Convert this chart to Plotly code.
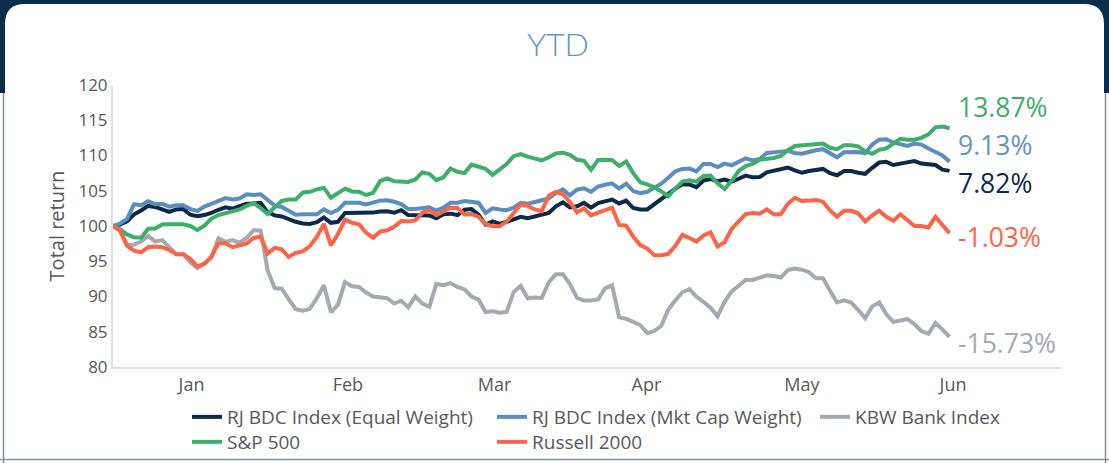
import pandas as pd
import plotly.graph_objects as go

# ---------------- data ----------------
dates = pd.bdate_range("2022-12-30", periods=120)

equal_weight = [100,
    100.2, 100.65, 101.65, 102.2, 102.85, 102.7, 102.35, 102.0, 102.35, 102.4,
    101.6, 101.4, 101.55, 101.85, 102.3, 102.65, 102.45, 102.75, 103.15, 103.2,
    103.3, 101.95, 101.5, 101.35, 100.95, 100.6, 100.35, 100.3, 100.55, 101.2,
    100.45, 100.6, 101.85, 101.85, 101.85, 101.85, 101.9, 102.05, 102.1, 101.9,
    102.25, 101.55, 101.5, 101.5, 101.5, 101.1, 101.65, 101.75, 101.55, 102.3,
    102.4, 101.6, 100.2, 100.65, 100.3, 100.6, 100.9, 101.3, 101.1, 101.35,
    101.55, 101.85, 102.8, 103.35, 102.65, 102.8, 103.3, 102.6, 103.25, 103.55,
    103.75, 103.2, 103.6, 102.55, 102.35, 102.35, 103.1, 103.8, 104.55, 105.3,
    105.9, 105.9, 105.5, 106.45, 106.65, 106.35, 106.6, 106.3, 106.7, 107.15,
    106.9, 106.95, 107.6, 107.8, 108.0, 108.3, 107.9, 107.55, 107.8, 107.9,
    108.1, 107.5, 107.2, 107.8, 107.8, 107.55, 107.4, 108.25, 109.0, 109.1,
    108.65, 108.85, 109.05, 109.2, 108.85, 108.7, 108.65, 108.0, 107.82]

mkt_cap_weight = [100,
    100.35, 101.0, 103.1, 102.95, 103.5, 103.1, 103.15, 102.75, 102.95, 102.95,
    102.4, 102.15, 102.75, 103.15, 103.6, 103.95, 103.75, 103.9, 104.5, 104.4,
    104.5, 103.65, 102.9, 102.7, 102.1, 101.6, 101.65, 101.7, 101.65, 102.35,
    101.85, 102.3, 103.3, 103.3, 103.3, 103.05, 103.3, 103.6, 103.65, 103.45,
    103.1, 102.4, 102.4, 102.5, 102.65, 102.2, 102.6, 103.3, 103.3, 103.55,
    103.45, 103.3, 101.85, 102.5, 102.35, 102.25, 102.6, 103.3, 103.15, 103.45,
    103.65, 103.9, 104.7, 105.2, 104.35, 105.15, 105.35, 104.85, 105.6, 105.85,
    106.05, 105.3, 106.0, 104.95, 104.65, 104.85, 105.35, 106.0, 106.85, 107.75,
    108.1, 108.15, 107.75, 108.8, 108.8, 108.35, 108.85, 108.6, 109.1, 109.6,
    109.3, 109.5, 110.35, 110.4, 110.55, 110.65, 110.35, 110.25, 110.55, 110.75,
    110.9, 110.4, 109.75, 110.45, 110.5, 110.5, 110.3, 111.55, 112.25, 112.3,
    111.85, 111.55, 111.35, 111.7, 111.55, 111.0, 110.55, 110.0, 109.13]

kbw_bank = [100,
    99.5, 97.3, 97.35, 97.8, 98.6, 97.8, 98.0, 97.0, 96.0, 96.0,
    94.85, 94.0, 94.7, 95.5, 98.25, 97.75, 98.0, 97.6, 98.3, 99.4,
    99.35, 93.7, 91.2, 91.1, 89.6, 88.2, 88.0, 88.25, 89.75, 91.6,
    87.75, 88.85, 92.05, 91.45, 91.35, 90.55, 90.0, 89.9, 89.75, 89.0,
    89.4, 88.45, 90.0, 89.0, 88.55, 91.8, 91.6, 91.9, 91.35, 91.0,
    90.0, 89.55, 87.8, 87.9, 87.7, 87.8, 90.65, 91.5, 89.75, 89.85,
    89.8, 92.05, 93.15, 93.15, 91.75, 89.8, 89.45, 89.45, 89.6, 91.15,
    91.6, 87.05, 86.85, 86.4, 85.95, 84.8, 85.1, 85.85, 88.15, 89.45,
    90.6, 91.05, 89.95, 89.25, 88.4, 87.2, 89.25, 90.7, 91.55, 92.35,
    92.35, 92.7, 93.0, 92.9, 92.7, 93.75, 93.95, 93.8, 93.45, 92.6,
    92.6, 90.8, 89.15, 89.45, 89.15, 88.1, 86.95, 88.6, 89.15, 87.5,
    86.4, 86.6, 86.8, 86.1, 85.1, 84.7, 86.25, 85.3, 84.27]

sp500 = [100,
    99.5, 98.8, 98.4, 98.35, 99.6, 99.65, 100.2, 100.25, 100.25, 100.25,
    100.0, 99.45, 100.05, 101.05, 101.55, 101.85, 102.1, 102.35, 102.85, 103.25,
    102.55, 101.7, 102.65, 103.55, 103.75, 103.75, 104.75, 104.85, 105.2, 105.4,
    104.0, 104.65, 105.3, 104.9, 104.85, 104.4, 104.7, 106.35, 106.75, 106.35,
    106.3, 106.25, 106.6, 107.6, 107.4, 106.5, 106.9, 108.15, 107.7, 107.5,
    108.7, 108.45, 108.1, 107.25, 108.1, 108.8, 109.9, 110.2, 109.85, 109.5,
    109.3, 109.75, 110.3, 110.4, 110.1, 109.4, 109.25, 107.95, 109.35, 109.35,
    109.35, 108.5, 109.15, 107.5, 106.2, 105.9, 105.5, 104.9, 104.2, 105.35,
    106.3, 106.5, 106.3, 107.1, 107.15, 106.05, 105.25, 106.4, 107.8, 108.5,
    108.8, 109.4, 109.5, 109.65, 109.95, 110.75, 111.35, 111.45, 111.5, 111.65,
    111.7, 111.1, 110.9, 111.45, 111.45, 111.3, 110.6, 110.25, 110.8, 111.0,
    111.75, 112.35, 112.25, 112.25, 112.5, 113.0, 114.0, 114.1, 113.87]

russell2000 = [100,
    99.3, 97.2, 96.5, 96.25, 97.0, 97.1, 97.0, 96.6, 96.0, 96.0,
    95.3, 94.3, 94.6, 95.65, 97.55, 97.55, 97.0, 97.25, 97.5, 98.3,
    98.5, 96.1, 96.9, 96.7, 95.6, 96.2, 96.4, 97.15, 98.45, 100.3,
    97.25, 98.85, 100.9, 100.45, 100.25, 99.05, 98.35, 99.2, 99.4, 99.9,
    100.7, 100.65, 100.8, 101.9, 102.25, 101.55, 102.1, 102.6, 102.55, 101.65,
    101.7, 101.3, 100.3, 99.95, 99.95, 100.65, 101.8, 103.05, 102.85, 102.35,
    102.1, 104.3, 104.85, 104.5, 103.4, 101.95, 102.5, 101.5, 101.9, 102.3,
    102.6, 100.15, 100.05, 98.5, 97.3, 96.8, 95.85, 95.85, 96.05, 97.2,
    98.75, 98.3, 97.8, 98.65, 99.1, 97.1, 97.7, 99.6, 100.6, 101.7,
    101.85, 101.75, 102.35, 101.65, 101.65, 103.15, 104.0, 103.55, 103.6, 103.7,
    103.45, 102.2, 101.3, 102.15, 102.15, 101.8, 100.65, 101.5, 102.15, 101.3,
    100.75, 101.65, 100.85, 100.0, 100.0, 99.8, 101.3, 100.2, 98.97]

series_names = ["RJ BDC Index (Equal Weight)", "RJ BDC Index (Mkt Cap Weight)",
                "KBW Bank Index", "S&P 500", "Russell 2000"]
series_values = [equal_weight, mkt_cap_weight, kbw_bank, sp500, russell2000]
series_colors = ["#0b2a4a", "#5b8dbf", "#a4aab1", "#3daf69", "#fa6548"]
end_labels = ["7.82%", "9.13%", "-15.73%", "13.87%", "-1.03%"]
label_colors = ["#0b2a4a", "#6494c4", "#a4aab1", "#3daf69", "#fa6548"]

month_labels = ["Jan", "Feb", "Mar", "Apr", "May", "Jun"]
month_tick_pos = ["2023-01-16 04:00", "2023-02-15 10:00", "2023-03-16 07:00",
                  "2023-04-14 21:00", "2023-05-17 00:00", "2023-06-15 12:00"]
y_ticks = [80, 85, 90, 95, 100, 105, 110, 115, 120]

# ---------------- geometry helpers (pixels -> paper) ----------------
W, H = 1109, 463
ML, MR, MT, MB = 113, 47, 85, 96
PW, PH = W - ML - MR, H - MT - MB


def px(x):
    return (x - ML) / PW


def py(y):
    return (H - MB - y) / PH


FONT = "'Open Sans', Lato, sans-serif"
TXT = "#595959"

fig = go.Figure()

legend_pos = [(187, 417), (492, 417), (815, 417), (187, 442), (492, 442)]
legend_ids = ["legend", "legend2", "legend3", "legend4", "legend5"]

for name, vals, col, lid in zip(series_names, series_values, series_colors, legend_ids):
    fig.add_trace(go.Scatter(x=dates, y=vals, mode="lines", name=name,
                             line=dict(color=col, width=4), legend=lid))

legend_layout = {}
for lid, (lx, ly) in zip(legend_ids, legend_pos):
    legend_layout[lid] = dict(x=px(lx), y=py(ly), xanchor="left", yanchor="middle",
                              bgcolor="rgba(0,0,0,0)", borderwidth=0,
                              font=dict(family=FONT, size=19, color=TXT),
                              itemwidth=30, orientation="v")

# end-of-line labels
label_y = {"13.87%": 107.2, "9.13%": 144.7, "7.82%": 182.8, "-1.03%": 236.7, "-15.73%": 343}
for lab, col in zip(end_labels, label_colors):
    fig.add_annotation(x=px(956), y=py(label_y[lab]), xref="paper", yref="paper",
                       text=lab, showarrow=False, xanchor="left", yanchor="middle",
                       font=dict(family=FONT, size=26.5, color=col))

# card background
navy = "#0c2c4c"
shapes = [
    dict(type="rect", xref="paper", yref="paper", x0=px(0), x1=px(W), y0=py(0), y1=py(93),
         fillcolor=navy, line=dict(width=0), layer="below"),
    dict(type="path", xref="paper", yref="paper", layer="below",
         path=(f"M{px(5)},{py(470)} L{px(5)},{py(24)} Q{px(5)},{py(4)} {px(25)},{py(4)} "
               f"L{px(1084)},{py(4)} Q{px(1104)},{py(4)} {px(1104)},{py(24)} "
               f"L{px(1104)},{py(470)} Z"),
         fillcolor="white", line=dict(width=0)),
    dict(type="line", xref="paper", yref="paper", x0=px(3.5), x1=px(3.5), y0=py(93), y1=py(463),
         line=dict(color="#7f90a5", width=1.5), layer="below"),
    dict(type="line", xref="paper", yref="paper", x0=px(0), x1=px(W), y0=py(459.5), y1=py(459.5),
         line=dict(color="#7f90a5", width=1.5), layer="below"),
    dict(type="line", xref="paper", yref="paper", x0=px(1105.5), x1=px(1105.5), y0=py(93), y1=py(463),
         line=dict(color="#7f90a5", width=1.5), layer="below"),
]

fig.update_layout(
    width=W, height=H,
    margin=dict(l=ML, r=MR, t=MT, b=MB, autoexpand=False),
    paper_bgcolor="white", plot_bgcolor="rgba(0,0,0,0)",
    font=dict(family=FONT, color=TXT),
    title=dict(text="YTD", x=558 / W, y=1 - 45 / H, xref="container", yref="container",
               xanchor="center", yanchor="middle",
               font=dict(family="Lato, sans-serif", size=32, weight=300, color="#6494c4")),
    shapes=shapes,
    showlegend=True,
    **legend_layout,
)

fig.update_xaxes(
    type="date",
    range=["2022-12-30", "2023-07-07"],
    rangebreaks=[dict(bounds=["sat", "mon"])],
    tickvals=month_tick_pos, ticktext=month_labels,
    showgrid=False, zeroline=False, showline=True, linecolor="#dde1e6", linewidth=2,
    ticks="", tickfont=dict(family=FONT, size=18, color=TXT),
)
fig.update_yaxes(
    range=[80, 120], tickvals=y_ticks,
    showgrid=False, zeroline=False, showline=True, linecolor="#dde1e6", linewidth=2,
    ticks="", tickfont=dict(family=FONT, size=17, color=TXT),
    title=dict(text="Total return", standoff=8, font=dict(family=FONT, size=20, color=TXT)),
)

fig.write_html("out.html", config={"displayModeBar": False},
               post_script="document.body.style.margin='0px';document.body.style.overflow='hidden';")
